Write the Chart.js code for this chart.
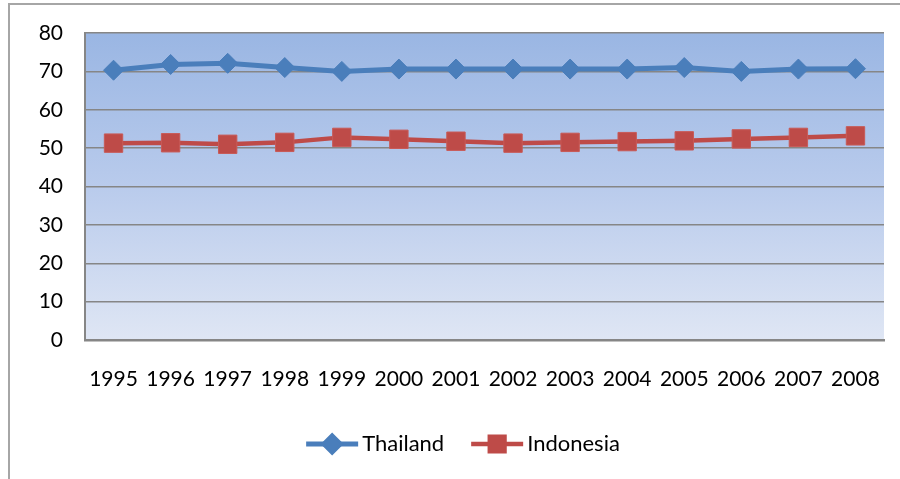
<!DOCTYPE html>
<html>
<head>
<meta charset="utf-8">
<script src="https://cdn.jsdelivr.net/npm/chart.js@4"></script>
<style>
  html, body { margin: 0; padding: 0; background: #fff; }
  body { width: 900px; height: 479px; overflow: hidden; position: relative; }
  .frame {
    position: absolute; left: 8px; top: 3px; width: 1000px; height: 600px;
    border-top: 2px solid #a6a6a6; border-left: 2px solid #a6a6a6;
  }
  #chart { position: absolute; left: 0; top: 0; }
</style>
</head>
<body>
<div class="frame"></div>
<canvas id="chart" width="900" height="479"></canvas>
<script>
// Datos
const years = ['1995', '1996', '1997', '1998', '1999', '2000', '2001',
               '2002', '2003', '2004', '2005', '2006', '2007', '2008'];
const thailand = [70.3, 71.8, 72.1, 71.0, 70.0, 70.6, 70.6, 70.6, 70.6, 70.6, 71.0, 70.0, 70.6, 70.7];
const indonesia = [51.3, 51.4, 51.0, 51.5, 52.8, 52.3, 51.8, 51.3, 51.5, 51.7, 51.9, 52.4, 52.8, 53.2];
const yTicks = [0, 10, 20, 30, 40, 50, 60, 70, 80];

const FONT = "Lato, 'Open Sans', sans-serif";
const blue = '#4a7ebb';
const red = '#be4b48';

// Fondo degradado del área de trazado
const plotBackground = {
    id: 'plotBackground',
    beforeDraw(chart) {
        const { ctx, chartArea: a } = chart;
        const g = ctx.createLinearGradient(0, a.top, 0, a.bottom);
        g.addColorStop(0, '#9ab6e3');
        g.addColorStop(0.5, '#b9cbec');
        g.addColorStop(1, '#dfe6f4');
        ctx.save();
        ctx.fillStyle = g;
        ctx.fillRect(a.left, a.top, a.right - a.left, a.bottom - a.top);
        ctx.restore();
    }
};

// Leyenda con línea + marcador, como en Excel
const lineLegend = {
    id: 'lineLegend',
    afterDraw(chart) {
        const ctx = chart.ctx;
        const lineLen = 52, textGap = 4, itemGap = 27, y = 444, centerX = 463;
        ctx.save();
        ctx.font = '22px ' + FONT;
        const items = chart.data.datasets.map(ds => ({ ds, w: lineLen + textGap + ctx.measureText(ds.label).width }));
        const total = items.reduce((s, it) => s + it.w, 0) + itemGap * (items.length - 1);
        let x = centerX - total / 2;
        items.forEach(({ ds, w }) => {
            ctx.strokeStyle = ds.borderColor;
            ctx.lineWidth = ds.borderWidth;
            ctx.beginPath();
            ctx.moveTo(x, y);
            ctx.lineTo(x + lineLen, y);
            ctx.stroke();
            Chart.helpers.drawPoint(ctx, {
                pointStyle: ds.pointStyle,
                radius: ds.pointRadius * 0.8,
                borderWidth: 1
            }, x + lineLen / 2, y);
            ctx.fillStyle = ds.pointBackgroundColor;
            ctx.strokeStyle = ds.pointBorderColor;
            ctx.fill();
            ctx.fillStyle = '#000';
            ctx.textBaseline = 'middle';
            ctx.textAlign = 'left';
            ctx.fillText(ds.label, x + lineLen + textGap, y);
            x += w + itemGap;
        });
        ctx.restore();
    }
};

new Chart(document.getElementById('chart').getContext('2d'), {
    type: 'line',
    data: {
        labels: years,
        datasets: [{
            label: 'Thailand',
            data: thailand,
            borderColor: blue,
            borderWidth: 5,
            pointStyle: 'rectRot',
            pointRadius: 10,
            pointBackgroundColor: blue,
            pointBorderColor: blue,
            pointBorderWidth: 1,
            tension: 0
        }, {
            label: 'Indonesia',
            data: indonesia,
            borderColor: red,
            borderWidth: 4.5,
            pointStyle: 'rect',
            pointRadius: 13,
            pointBackgroundColor: red,
            pointBorderColor: '#c85a57',
            pointBorderWidth: 1,
            tension: 0
        }]
    },
    options: {
        responsive: false,
        animation: false,
        layout: { padding: { left: 0, right: 16, top: 33, bottom: 0 } },
        plugins: { legend: { display: false }, tooltip: { enabled: false } },
        scales: {
            x: {
                offset: true,
                grid: { display: false, drawTicks: false },
                border: { display: true, color: '#868686', width: 2.5 },
                ticks: { color: '#000', font: { family: FONT, size: 21 }, padding: 27, maxRotation: 0, autoSkip: false },
                afterFit(scale) {
                    scale.height = 139;
                    scale.paddingLeft = 0;
                    scale.paddingRight = 0;
                }
            },
            y: {
                min: 0,
                max: 80,
                afterBuildTicks(scale) { scale.ticks = yTicks.map(v => ({ value: v })); },
                grid: { color: '#868686', lineWidth: 1.5, drawTicks: false },
                border: { display: true, color: '#868686', width: 2 },
                ticks: { color: '#000', font: { family: FONT, size: 21 }, padding: 22 },
                afterFit(scale) {
                    scale.width = 85;
                    scale.paddingTop = 0;
                    scale.paddingBottom = 0;
                }
            }
        }
    },
    plugins: [plotBackground, lineLegend]
});
</script>
</body>
</html>
